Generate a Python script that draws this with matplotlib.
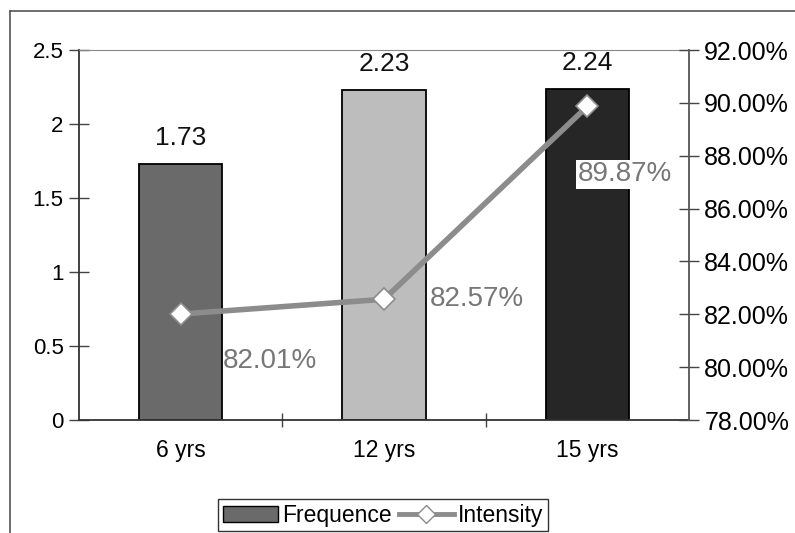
import numpy as np
import matplotlib.pyplot as plt
from matplotlib.lines import Line2D

plt.rcParams['font.family'] = ['Liberation Sans', 'DejaVu Sans']

groups = ["6 yrs", "12 yrs", "15 yrs"]
frequence = [1.73, 2.23, 2.24]
intensity = [82.01, 82.57, 89.87]
bar_colors = ["#6a6a6a", "#bdbdbd", "#262626"]
# label offsets (points) for the intensity labels
pct_offsets = [(30, -34), (33, 0), (-7, -49)]

fig = plt.figure(figsize=(7.95, 5.33), dpi=100)
ax = fig.add_axes([0.0994, 0.212, 0.7673, 0.694])

x = np.arange(len(groups))
ax.bar(x, frequence, width=0.41, color=bar_colors, edgecolor="black", linewidth=1.3, zorder=2)
for xi, v in zip(x, frequence):
    ax.annotate(f"{v:.2f}", (xi, v), xytext=(0, 10), textcoords="offset points",
                ha="center", va="bottom", fontsize=19, color="#111111")

ax.set_xlim(-0.5, 2.5)
ax.set_ylim(0, 2.5)
ax.set_yticks([0, 0.5, 1, 1.5, 2, 2.5])
ax.set_yticklabels(["0", "0.5", "1", "1.5", "2", "2.5"])
ax.set_xticks(x)
ax.set_xticklabels(groups)
ax.set_xticks([0.5, 1.5], minor=True)
ax.tick_params(axis="x", which="major", length=0, pad=14, labelsize=16.5)
ax.tick_params(axis="x", which="minor", direction="inout", length=10, width=1, color="#444444")
ax.tick_params(axis="y", direction="inout", length=14, width=1, labelsize=16, pad=4, color="#444444")
for s in ["left", "bottom"]:
    ax.spines[s].set_color("#333333")
    ax.spines[s].set_linewidth(1.3)
ax.spines["top"].set_color("#888888")
ax.spines["right"].set_visible(False)

ax2 = ax.twinx()
ax2.plot(x, intensity, color="#8c8c8c", linewidth=4, marker="D", markersize=11,
         markerfacecolor="white", markeredgecolor="#8c8c8c", markeredgewidth=1.2, zorder=3)
ax2.set_ylim(78, 92)
ax2.set_yticks(np.arange(78, 93, 2))
ax2.set_yticklabels([f"{t:.2f}%" for t in np.arange(78, 93, 2)])
ax2.tick_params(axis="y", direction="inout", length=14, width=1, labelsize=18, pad=4, color="#444444")
for s in ["left", "top", "bottom"]:
    ax2.spines[s].set_visible(False)
ax2.spines["right"].set_color("#555555")
ax2.spines["right"].set_linewidth(1.3)

for i, (xi, v) in enumerate(zip(x, intensity)):
    dx, dy = pct_offsets[i]
    bbox = dict(facecolor="white", edgecolor="none", pad=1) if i == 2 else None
    ax2.annotate(f"{v:.2f}%", (xi, v), xytext=(dx, dy), textcoords="offset points",
                 ha="left", va="center", fontsize=20, color="#777777", bbox=bbox)

handles = [
    plt.Rectangle((0, 0), 1, 1, facecolor=bar_colors[0], edgecolor="black", linewidth=1),
    Line2D([], [], color="#8c8c8c", linewidth=3.5, marker="D", markersize=9,
           markerfacecolor="white", markeredgecolor="#8c8c8c"),
]
leg = fig.legend(handles, ["Frequence", "Intensity"], loc="center", bbox_to_anchor=(0.482, 0.033),
                 ncol=2, fontsize=16.5, frameon=True, fancybox=False, handlelength=2.4,
                 handletextpad=0.2, columnspacing=0.3, borderpad=0.2, borderaxespad=0)
leg.get_frame().set_edgecolor("black")
leg.get_frame().set_linewidth(1)

# outer chart frame
fig.add_artist(Line2D([0.012, 0.012], [0, 0.98], transform=fig.transFigure, color="#555555", linewidth=1.2))
fig.add_artist(Line2D([0.012, 1.0], [0.98, 0.98], transform=fig.transFigure, color="#555555", linewidth=1.2))

fig.savefig("out.png", dpi=100)
